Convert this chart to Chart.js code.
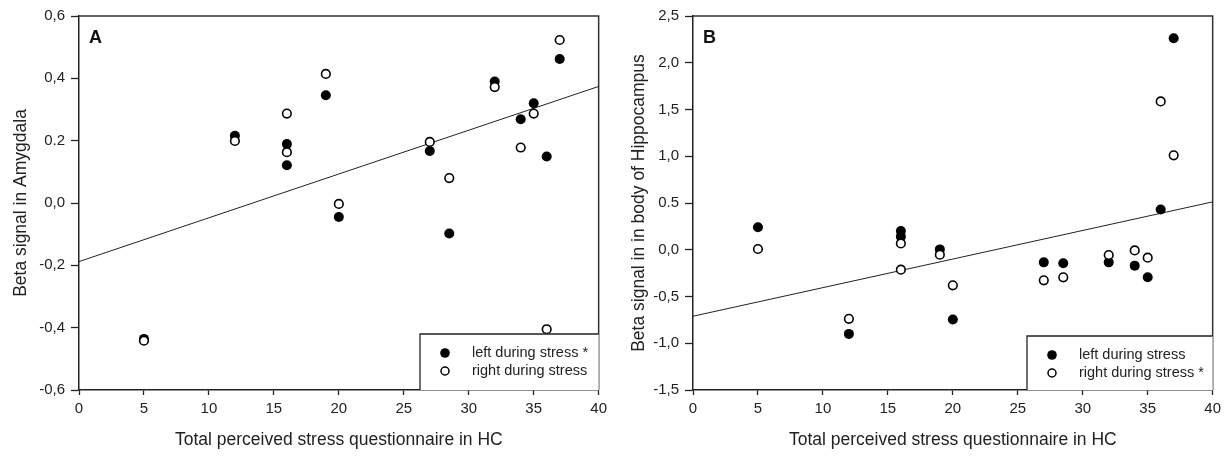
<!DOCTYPE html>
<html>
<head>
<meta charset="utf-8">
<script src="https://cdn.jsdelivr.net/npm/chart.js@4.4.1/dist/chart.umd.min.js"></script>
<style>
  body { margin: 0; background: #fff; }
  canvas { position: absolute; top: 0; }
  #chartA { left: 0; }
  #chartB { left: 612px; }
</style>
</head>
<body>
<canvas id="chartA" width="612" height="456"></canvas>
<canvas id="chartB" width="614" height="456"></canvas>
<script>
// stress score of each subject (same in both panels)
var stressScores = [5, 12, 16, 16, 19, 20, 27, 28.5, 32, 34, 35, 36, 37];

// panel A: amygdala
var amygLeft  = [-0.436, 0.216, 0.189, 0.121, 0.346, -0.045, 0.167, -0.098, 0.390, 0.269, 0.320, 0.149, 0.462];
var amygRight = [-0.442, 0.199, 0.287, 0.163, 0.414, -0.003, 0.196, 0.080, 0.372, 0.178, 0.287, -0.405, 0.523];
var amygFitX = [0, 40];
var amygFitY = [-0.188, 0.374];
var amygTicks = [-0.6, -0.4, -0.2, 0, 0.2, 0.4, 0.6];
var amygTickLabels = ['-0,6', '-0,4', '-0,2', '0,0', '0.2', '0,4', '0,6'];

// panel B: body of hippocampus
var hippLeft  = [0.240, -0.900, 0.200, 0.140, 0.004, -0.746, -0.135, -0.145, -0.135, -0.170, -0.295, 0.431, 2.262];
var hippRight = [0.008, -0.739, 0.068, -0.213, -0.053, -0.380, -0.327, -0.295, -0.056, -0.007, -0.085, 1.586, 1.010];
var hippFitX = [0, 40];
var hippFitY = [-0.711, 0.512];
var hippTicks = [-1.5, -1, -0.5, 0, 0.5, 1, 1.5, 2, 2.5];
var hippTickLabels = ['-1,5', '-1,0', '-0,5', '0,0', '0.5', '1,0', '1,5', '2,0', '2,5'];

var xTicks = [0, 5, 10, 15, 20, 25, 30, 35, 40];
var xTitle = 'Total perceived stress questionnaire in HC';

var FONT = 'Liberation Sans, Arial, sans-serif';
var INK = '#222';

function toPoints(xs, ys) {
    return xs.map((x, i) => ({ x: x, y: ys[i] }));
}

// top and right side of the frame
var framePlugin = {
    id: 'frame',
    afterDatasetsDraw(chart) {
        var a = chart.chartArea, ctx = chart.ctx;
        ctx.save();
        ctx.strokeStyle = '#333';
        ctx.lineWidth = 1.5;
        ctx.beginPath();
        ctx.moveTo(a.left, a.top);
        ctx.lineTo(a.right, a.top);
        ctx.lineTo(a.right, a.bottom);
        ctx.stroke();
        ctx.restore();
    }
};

// boxed legend in the lower right corner + panel letter
var boxLegendPlugin = {
    id: 'boxLegend',
    afterDraw(chart, args, opts) {
        var a = chart.chartArea, ctx = chart.ctx;
        ctx.save();
        // panel letter
        ctx.fillStyle = '#111';
        ctx.font = 'bold 18px ' + FONT;
        ctx.textBaseline = 'middle';
        ctx.fillText(opts.letter, a.left + 10, a.top + 22);

        var left = a.left + opts.boxLeft;
        var top = a.top + opts.boxTop;
        ctx.fillStyle = '#fff';
        ctx.fillRect(left, top, a.right - left, a.bottom - top);
        ctx.strokeStyle = '#222';
        ctx.lineWidth = 1.3;
        ctx.beginPath();
        ctx.moveTo(left, a.bottom);
        ctx.lineTo(left, top);
        ctx.lineTo(a.right, top);
        ctx.stroke();

        ctx.font = '14.5px ' + FONT;
        ctx.fillStyle = INK;
        opts.items.forEach((item, i) => {
            var cy = top + 19 + i * 18;
            ctx.beginPath();
            ctx.arc(left + 25, cy, item.filled ? 4.8 : 4, 0, Math.PI * 2);
            if (item.filled) {
                ctx.fillStyle = '#000';
                ctx.fill();
            } else {
                ctx.fillStyle = '#fff';
                ctx.fill();
                ctx.strokeStyle = '#000';
                ctx.lineWidth = 1.5;
                ctx.stroke();
            }
            ctx.fillStyle = INK;
            ctx.fillText(item.text, left + 52, cy);
        });
        ctx.restore();
    }
};

function makePanel(canvasId, p) {
    var ctx = document.getElementById(canvasId).getContext('2d');
    return new Chart(ctx, {
        type: 'scatter',
        data: {
            datasets: [{
                label: 'right during stress',
                data: toPoints(stressScores, p.right),
                pointRadius: 4.3,
                pointBackgroundColor: '#fff',
                pointBorderColor: '#000',
                pointBorderWidth: 1.6,
                order: 1
            }, {
                label: 'left during stress',
                data: toPoints(stressScores, p.left),
                pointRadius: 5,
                pointBackgroundColor: '#000',
                pointBorderColor: '#000',
                pointBorderWidth: 0,
                order: 2
            }, {
                type: 'line',
                label: 'fit',
                data: toPoints(p.fitX, p.fitY),
                borderColor: '#222',
                borderWidth: 1,
                pointRadius: 0,
                fill: false,
                order: 3
            }]
        },
        options: {
            responsive: false,
            animation: false,
            devicePixelRatio: 1,
            layout: { padding: { top: 16, right: p.padRight, left: 0, bottom: 0 } },
            plugins: {
                legend: { display: false },
                tooltip: { enabled: false },
                boxLegend: p.legend
            },
            scales: {
                x: {
                    type: 'linear',
                    min: 0,
                    max: 40,
                    afterBuildTicks: s => { s.ticks = xTicks.map(v => ({ value: v })); },
                    afterFit: s => { s.height = 66; },
                    grid: { drawOnChartArea: false, tickLength: 5, tickColor: '#222', tickWidth: 1.3 },
                    border: { color: '#222', width: 1.5 },
                    ticks: { color: INK, font: { family: FONT, size: 15 }, padding: 5, maxRotation: 0 },
                    title: {
                        display: true,
                        text: xTitle,
                        color: INK,
                        font: { family: FONT, size: 17.5 },
                        padding: { top: 0, bottom: 5 }
                    }
                },
                y: {
                    type: 'linear',
                    min: p.ticks[0],
                    max: p.ticks[p.ticks.length - 1],
                    afterBuildTicks: s => { s.ticks = p.ticks.map(v => ({ value: v })); },
                    afterFit: s => { s.width = p.axisWidth; },
                    grid: { drawOnChartArea: false, tickLength: 8, tickColor: '#222', tickWidth: 1.3 },
                    border: { color: '#222', width: 1.5 },
                    ticks: {
                        color: INK,
                        font: { family: FONT, size: 15 },
                        padding: 6,
                        callback: (v, i) => p.tickLabels[i]
                    },
                    title: {
                        display: true,
                        text: p.yTitle,
                        color: INK,
                        font: { family: FONT, size: 17.5 },
                        padding: { top: p.yTitlePad, bottom: 0 }
                    }
                }
            }
        },
        plugins: [framePlugin, boxLegendPlugin]
    });
}

makePanel('chartA', {
    left: amygLeft, right: amygRight, fitX: amygFitX, fitY: amygFitY,
    ticks: amygTicks, tickLabels: amygTickLabels,
    yTitle: 'Beta signal in Amygdala',
    axisWidth: 79, padRight: 13, yTitlePad: 11,
    legend: {
        letter: 'A', boxLeft: 341, boxTop: 318,
        items: [{ text: 'left during stress *', filled: true }, { text: 'right during stress', filled: false }]
    }
});

makePanel('chartB', {
    left: hippLeft, right: hippRight, fitX: hippFitX, fitY: hippFitY,
    ticks: hippTicks, tickLabels: hippTickLabels,
    yTitle: 'Beta signal in in body of Hippocampus',
    axisWidth: 81, padRight: 12, yTitlePad: 17,
    legend: {
        letter: 'B', boxLeft: 334, boxTop: 320,
        items: [{ text: 'left during stress', filled: true }, { text: 'right during stress *', filled: false }]
    }
});
</script>
</body>
</html>
